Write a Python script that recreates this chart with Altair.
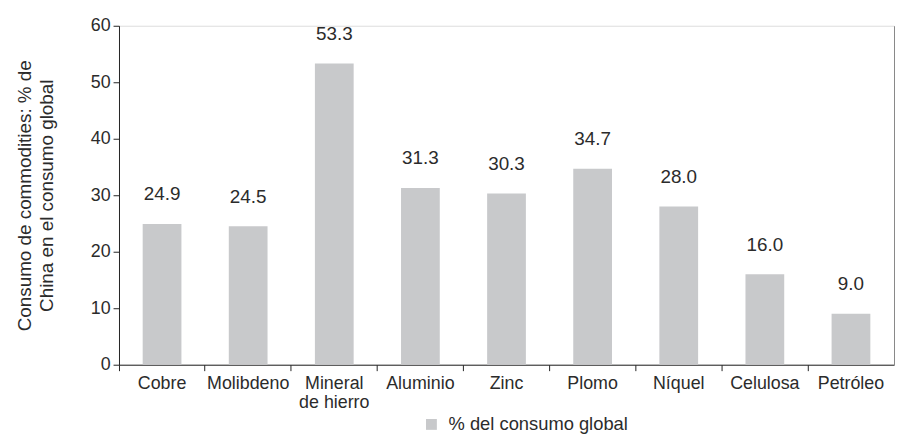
import altair as alt
import pandas as pd

categorias = ["Cobre", "Molibdeno", "Mineral de hierro", "Aluminio", "Zinc",
              "Plomo", "Níquel", "Celulosa", "Petróleo"]
valores = [24.9, 24.5, 53.3, 31.3, 30.3, 34.7, 28.0, 16.0, 9.0]
serie = "% del consumo global"

df = pd.DataFrame({"cat": categorias, "val": valores, "serie": [serie] * len(categorias)})

FONT = "Liberation Sans, Arial, sans-serif"
TXT = "#2b2b2b"

x = alt.X(
    "cat:N", sort=categorias, title=None,
    scale=alt.Scale(paddingInner=0, paddingOuter=0),
    axis=alt.Axis(
        bandPosition=0, labelAngle=0, labelPadding=4,
        labelExpr="datum.label == 'Mineral de hierro' ? ['Mineral', 'de hierro'] : datum.label",
        tickSize=6, domainColor="#222", tickColor="#222", labelFont=FONT,
        labelFontSize=18, labelColor=TXT, labelLineHeight=19,
    ),
)
y = alt.Y(
    "val:Q", scale=alt.Scale(domain=[0, 60]),
    axis=alt.Axis(
        values=[0, 10, 20, 30, 40, 50, 60], grid=False, tickSize=6,
        domainColor="#222", tickColor="#222", labelFont=FONT, labelFontSize=18,
        labelColor=TXT, labelPadding=3,
        title=["Consumo de commodities: % de", "China en el consumo global"],
        titleFont=FONT, titleFontSize=19, titleFontWeight="normal", titleColor=TXT,
        titleLineHeight=22, titlePadding=34,
    ),
)

bars = alt.Chart(df).mark_bar(width=alt.RelativeBandSize(0.45)).encode(
    x=x, y=y,
    color=alt.Color(
        "serie:N", scale=alt.Scale(range=["#c8c9cb"]),
        legend=alt.Legend(
            title=None, orient="none", legendX=306, legendY=393,
            symbolType="square", symbolSize=120, symbolStrokeWidth=0,
            labelFont=FONT, labelFontSize=18.5, labelColor=TXT, labelOffset=8,
            labelLimit=400,
        ),
    ),
)

labels = alt.Chart(df).mark_text(
    baseline="bottom", dy=-20, font=FONT, fontSize=19, color=TXT
).encode(
    x=alt.X("cat:N", sort=categorias),
    y=alt.Y("val:Q", axis=alt.Axis(
        orient="right", labels=False, ticks=False, title=None, grid=False,
        domainColor="#888888", domainWidth=1)),
    text=alt.Text("val:Q", format=".1f"),
)

chart = alt.layer(bars, labels).resolve_axis(y="independent").properties(
    width=782, height=342,
    autosize=alt.AutoSizeParams(type="none"),
    padding={"left": 112, "top": 16, "right": 2, "bottom": 70},
).configure_view(stroke=None).configure(background="white")

chart.save("out.html", embed_options={"renderer": "svg", "actions": False})
